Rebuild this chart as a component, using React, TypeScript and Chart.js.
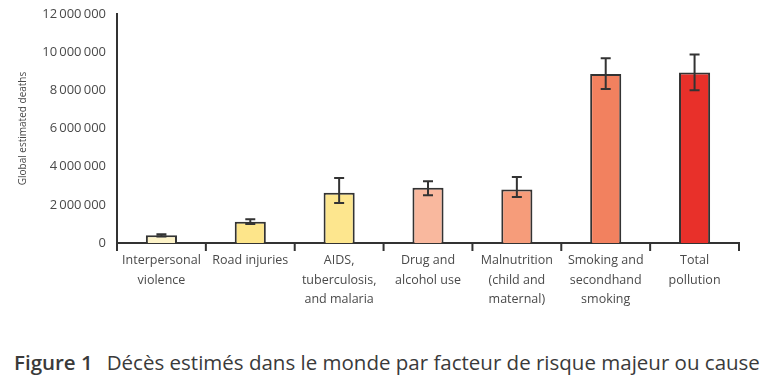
import React, { useEffect, useRef } from "react";
import { Chart, registerables } from "chart.js";

Chart.register(...registerables);

const categories: string[][] = [
  ["Interpersonal", "violence"],
  ["Road injuries"],
  ["AIDS,", "tuberculosis,", "and malaria"],
  ["Drug and", "alcohol use"],
  ["Malnutrition", "(child and", "maternal)"],
  ["Smoking and", "secondhand", "smoking"],
  ["Total", "pollution"],
];
const deaths = [400000, 1120000, 2630000, 2890000, 2810000, 8860000, 8930000];
const lowValues = [340000, 1000000, 2100000, 2500000, 2410000, 8070000, 8000000];
const highValues = [460000, 1250000, 3400000, 3230000, 3460000, 9680000, 9880000];
const barColors = ["#FDF3C8", "#FDE58A", "#FDE68E", "#F9B89E", "#F69C7A", "#F2815F", "#E8302A"];
const yTicks = [0, 2000000, 4000000, 6000000, 8000000, 10000000, 12000000];
const yTitle = "Global estimated deaths";
const figLabel = "Figure 1";
const figCaption = "Décès estimés dans le monde par facteur de risque majeur ou cause";

const fmt = (v: number) => {
  if (v === 0) return "0";
  return String(v).replace(/\B(?=(\d{3})+(?!\d))/g, "\u2009");
};

const errorBarPlugin = {
  id: "errorBars",
  afterDatasetsDraw(chart: any) {
    const ctx = chart.ctx;
    const meta = chart.getDatasetMeta(0);
    const y = chart.scales.y;
    ctx.save();
    ctx.strokeStyle = "#333333";
    ctx.lineWidth = 2;
    meta.data.forEach((bar: any, i: number) => {
      const x = bar.x;
      const yl = y.getPixelForValue(lowValues[i]);
      const yh = y.getPixelForValue(highValues[i]);
      const cap = 5;
      ctx.beginPath();
      ctx.moveTo(x, yl);
      ctx.lineTo(x, yh);
      ctx.moveTo(x - cap, yl);
      ctx.lineTo(x + cap, yl);
      ctx.moveTo(x - cap, yh);
      ctx.lineTo(x + cap, yh);
      ctx.stroke();
    });
    ctx.restore();
  },
};

const axisPlugin = {
  id: "axisTicks",
  afterDraw(chart: any) {
    const ctx = chart.ctx;
    const xs = chart.scales.x;
    const area = chart.chartArea;
    ctx.save();
    ctx.strokeStyle = "#333333";
    ctx.lineWidth = 2;
    const n = categories.length;
    for (let i = 0; i <= n; i++) {
      const px = xs.getPixelForValue(i - 0.5);
      ctx.beginPath();
      ctx.moveTo(px, area.bottom);
      ctx.lineTo(px, area.bottom + 8);
      ctx.stroke();
    }
    ctx.restore();
  },
};

export default function App() {
  const ref = useRef<HTMLCanvasElement>(null);
  useEffect(() => {
    if (!ref.current) return;
    const chart = new Chart(ref.current, {
      type: "bar",
      data: {
        labels: categories,
        datasets: [
          {
            data: deaths,
            backgroundColor: barColors,
            borderColor: "#333333",
            borderWidth: 2,
            borderSkipped: "bottom",
            barPercentage: 0.7,
            categoryPercentage: 0.5,
          },
        ],
      },
      options: {
        responsive: false,
        animation: false,
        layout: { padding: { left: 17, top: 14, right: 41, bottom: 0 } },
        plugins: {
          legend: { display: false },
          tooltip: { enabled: false },
        },
        scales: {
          x: {
            offset: true,
            grid: { display: false, drawTicks: false },
            border: { color: "#333333", width: 2 },
            ticks: {
              color: "#4a4a4a",
              font: { family: "Open Sans", size: 12.5, lineHeight: 1.55 },
              padding: 8,
              maxRotation: 0,
              autoSkip: false,
            },
            afterFit(scale: any) {
              scale.height = 87;
            },
          },
          y: {
            min: 0,
            max: 12000000,
            afterBuildTicks(scale: any) {
              scale.ticks = yTicks.map((v) => ({ value: v }));
            },
            grid: { display: false, drawTicks: true, tickLength: 8, tickColor: "#333333", tickWidth: 2 },
            border: { color: "#333333", width: 2 },
            ticks: {
              color: "#4a4a4a",
              font: { family: "Open Sans", size: 13 },
              padding: 3,
              callback: (v: any) => fmt(Number(v)),
            },
            title: {
              display: true,
              text: yTitle,
              color: "#4a4a4a",
              font: { family: "Open Sans", size: 10 },
              padding: { top: 0, bottom: 4 },
            },
            afterFit(scale: any) {
              scale.width = 100;
            },
          },
        },
      },
      plugins: [errorBarPlugin, axisPlugin],
    });
    return () => chart.destroy();
  }, []);

  return (
    <div style={{ position: "fixed", left: 0, top: 0, width: 780, height: 380, background: "#fff" }}>
      <canvas ref={ref} width={780} height={330} style={{ display: "block" }} />
      <div
        style={{
          position: "absolute",
          left: 14,
          top: 348,
          fontFamily: "Open Sans",
          fontSize: 20.5,
          lineHeight: "28px",
          color: "#3a3a3a",
          whiteSpace: "nowrap",
        }}
      >
        <span style={{ fontWeight: 600 }}>{figLabel}</span>
        <span style={{ marginLeft: 14 }}>{figCaption}</span>
      </div>
    </div>
  );
}
